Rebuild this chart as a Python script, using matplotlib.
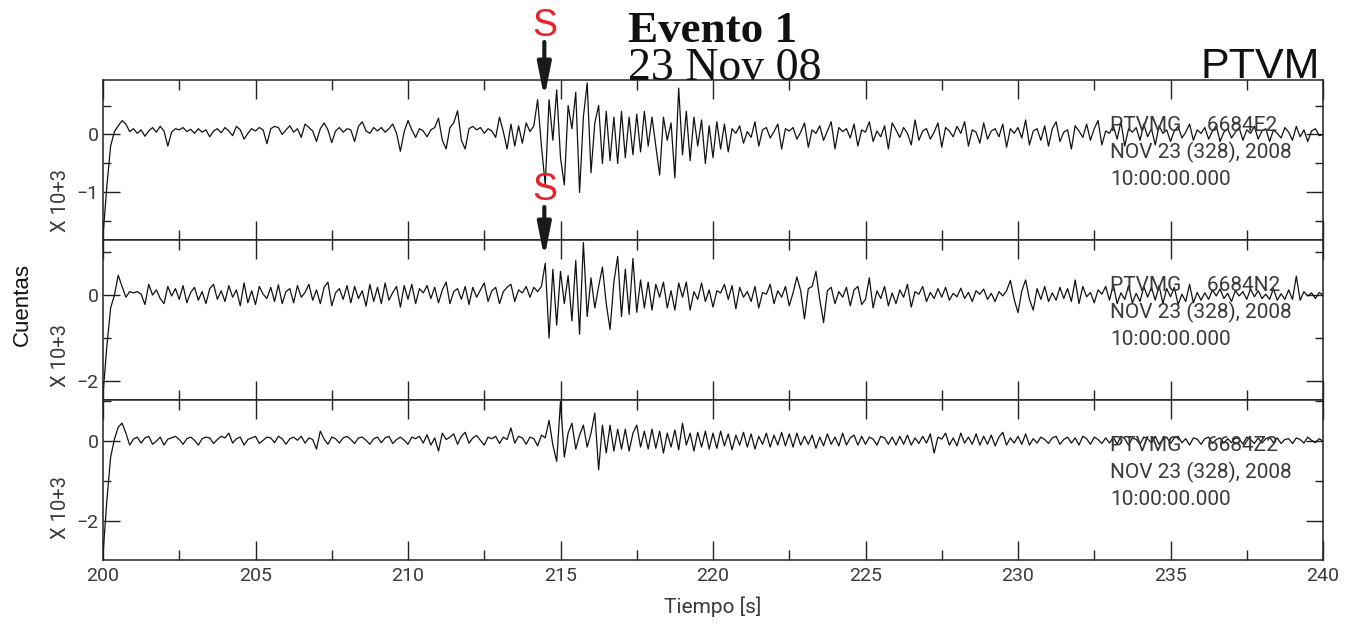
import numpy as np
import matplotlib.pyplot as plt
from matplotlib.ticker import MultipleLocator, FixedLocator

# seismogram traces, sampled every 0.125 s from 200 s, in hundredths of 10^3 counts
T0 = 200.0
DT = 0.125
east = [
    -175, -90, -20, 5, 15, 24, 18, 5,
    10, 2, 8, -3, 6, 12, 4, 14,
    6, -20, 4, 10, 8, 12, 5, 9,
    2, 10, 4, 8, -4, 6, 10, 3,
    12, 6, -2, 14, 8, -8, 2, 10,
    6, 12, 8, -16, 10, 14, 12, 0,
    8, 15, 4, 10, -5, 18, 12, 6,
    -12, 10, 20, 8, -14, 6, 12, 4,
    10, 8, -12, 14, 22, 6, 2, 12,
    6, 12, 4, 10, 18, 2, -29, 5,
    24, 8, -5, 10, 6, -4, 8, 12,
    28, -10, -25, 12, 20, 41, -10, -25,
    10, 14, 8, 12, 2, 10, 6, -5,
    30, 5, -25, 18, -20, 15, -15, 20,
    5, 15, 60, -20, -87, 60, -10, 77,
    -40, -87, 50, 10, 73, -100, 30, 89,
    -66, 20, 50, -50, 40, -45, 30, -50,
    40, -40, 30, -35, 35, -30, 40, -20,
    30, -20, -70, 30, -10, 20, -75, 80,
    -35, 40, -45, 30, -20, 25, -50, 15,
    -40, 22, -25, 18, -30, 10, 2, 15,
    -15, 5, -5, 22, -20, 8, 12, -6,
    5, 18, -25, 10, 6, 12, -8, 4,
    20, -22, 8, 2, 15, -10, 6, 22,
    -25, 12, 5, 10, -6, 18, -20, 8,
    4, 22, -12, 6, -4, 15, -25, 20,
    8, -5, 12, 2, -18, 25, -10, 6,
    10, -8, 4, 20, -22, 12, 6, -4,
    14, 2, 22, -20, 8, 4, -15, 20,
    -8, 6, 10, -4, 18, -22, 10, 2,
    12, -6, 25, -18, 6, 10, -10, 15,
    -20, 10, 22, -12, 4, 8, -25, 15,
    6, -5, 18, -10, 10, 24, -18, 6,
    2, 15, -8, 22, -20, 10, 4, 12,
    -10, 18, -4, 10, -18, 15, 2, 8,
    -12, 6, 14, -6, 4, 18, -10, 8,
    2, 12, -8, 6, 15, -12, 4, 10,
    -6, 4, 12, -10, 8, 2, 14, -8,
    6, 10, -12, 8, 2, -6, 12, 4,
    -10, 14, -4, 8, -12, 6, 10, -2,
    0]
north = [
    -230, -120, -30, 0, 46, 20, -5, 8,
    5, 8, 2, -22, 25, 0, 12, -8,
    -20, 20, -2, 15, -10, 22, -18, 6,
    18, -12, 8, -20, 15, 25, -10, 10,
    -15, 22, -5, 12, -25, 28, -18, 10,
    -22, 20, 2, -8, 18, -15, 24, -20,
    8, 15, -18, 22, -5, 6, 25, -12,
    12, -20, 18, 30, -25, 5, 15, -10,
    22, -18, 20, -8, 10, -26, 25, -15,
    18, -20, 28, -12, 6, 20, -28, 22,
    -10, 25, -20, 15, 5, 22, -8, 18,
    -18, 12, 30, -20, 8, 15, -10, 20,
    -22, 18, -5, 12, 28, -15, 10, 18,
    -20, 8, 18, 25, -15, 12, 5, 20,
    -5, 18, 8, 20, 74, -100, 60, -70,
    55, -20, 45, -60, 80, -91, 122, -50,
    40, -30, 20, 65, -20, -80, 30, 90,
    -50, 60, -45, 85, -40, 35, -30, 30,
    -35, 25, -5, 30, -30, 10, -35, 28,
    -5, 30, -35, 8, -10, 28, -15, 12,
    -28, 10, 5, 25, -10, 22, -32, 18,
    -5, 8, -15, 20, -30, 6, 2, 25,
    -20, 10, -5, 20, -25, 5, 42, 10,
    -55, 15, 20, 55, -10, -64, 10, 18,
    -20, 8, -5, 18, -25, 12, 20, -22,
    -10, 40, -30, 10, -8, 20, -25, 5,
    -20, 12, -5, 25, -28, 8, 2, 20,
    -15, 6, -8, 15, -5, 18, -12, 4,
    -4, 16, -8, 6, -15, 10, 2, 14,
    -10, 4, -15, 8, -2, 10, 34, -10,
    -41, 10, 35, -10, -35, 15, -10, 20,
    -15, 5, -12, 18, -8, 15, -15, 35,
    -20, 20, -4, 6, -18, 12, 2, 20,
    -12, 25, -20, 5, -10, 22, -18, 4,
    -15, 20, -5, 18, -12, 22, -20, 15,
    -4, 18, -22, 2, -15, 25, -18, 6,
    -12, 5, -10, 12, -2, 14, -8, 4,
    -15, 10, -2, 8, -10, 14, -4, 10,
    -8, 2, -10, 15, -12, 3, -10, 12,
    -10, 44, -12, 8, -2, 5, -8, 6,
    0]
vertical = [
    -285, -150, -40, 5, 35, 45, 20, -10,
    5, 10, -5, 8, 12, -8, 0, 10,
    -10, 5, 8, 12, 4, -8, 6, 10,
    2, -10, 6, 10, 8, -6, 4, 12,
    8, 20, -5, 6, 10, -10, 4, 8,
    12, -6, 2, 10, 8, -4, 12, 6,
    -8, 6, 10, 2, 12, -5, 8, 4,
    -20, 25, 5, -8, 10, 6, -5, 8,
    12, 4, -6, 8, 10, 2, -8, 6,
    10, -4, 8, 12, -6, 4, 10, 2,
    -8, 10, 6, 12, -5, 16, -10, 8,
    -25, 20, 4, 10, 18, -8, 12, 22,
    -5, 8, 14, 2, -10, 10, 6, 12,
    -6, 10, 4, 33, -5, 12, 8, -8,
    10, 6, -12, 15, 8, 52, -10, -51,
    100, -40, 20, 45, -20, 15, 40, -15,
    20, 70, -72, 40, -30, 40, -25, 30,
    -20, 30, -25, 20, 40, -15, 25, -20,
    30, -18, 25, -30, 20, -15, 28, -22,
    45, -10, 20, -25, 22, -15, 25, -20,
    20, -18, 25, -12, 18, -22, 15, -10,
    22, -15, 18, -20, 12, -8, 20, -15,
    15, -10, 22, -12, 18, -15, 20, -10,
    12, -8, 15, -18, 10, -12, 18, -8,
    10, -12, 20, -10, 8, 15, -10, 12,
    -8, 10, 5, -10, 12, 8, -8, 10,
    -10, 12, -8, 15, -10, 8, -6, 12,
    -5, 18, -30, 10, 5, 20, -10, 8,
    -12, 20, -5, 10, -8, 18, -10, 12,
    -8, 15, -12, 10, 22, -10, 8, -5,
    12, -8, 18, -10, 6, -5, 10, 4,
    -6, 8, 12, -8, 4, 10, -5, 8,
    -10, 12, 6, -8, 10, 4, -6, 8,
    -5, 10, -8, 12, 6, -10, 8, 4,
    -8, 10, 6, -5, 12, -8, 4, 10,
    -6, 8, 12, -4, 6, -10, 8, 5,
    -8, 6, 10, -6, 4, 8, -5, 6,
    -4, 8, 6, -8, 10, 4, -6, 8,
    -5, 6, 10, -4, 8, -6, 4, 6,
    -6, 8, 4, -5, 10, 2, -4, 6,
    0]

channels = ['6684E2', '6684N2', '6684Z2']
ylims = [(-1.82, 0.94), (-2.44, 1.28), (-2.98, 1.03)]
ymajor = [[0, -1], [0, -2], [0, -2]]
yminor = [0.5, 1, 1]
xlab_y = [0.25, 0.281, 0.331]
s_time = 214.47  # S arrival marked on E and N

narrow = ['Roboto', 'DejaVu Sans']
gray = '#3a3a3a'

fig = plt.figure(figsize=(13.56, 6.29), dpi=100)
left, width = 103/1356, 1220/1356
h = 160/629
bottoms = [1 - 240/629, 1 - 400/629, 1 - 560/629]

traces = [east, north, vertical]
axes = []
for k in range(3):
    ax = fig.add_axes([left, bottoms[k], width, h])
    y = np.array(traces[k]) / 100.0
    t = T0 + DT*np.arange(len(y))
    ax.plot(t, y, color='#111111', lw=0.9)
    ax.set_xlim(200, 240)
    ax.set_ylim(*ylims[k])
    ax.xaxis.set_major_locator(MultipleLocator(5))
    ax.xaxis.set_minor_locator(MultipleLocator(2.5))
    ax.yaxis.set_major_locator(FixedLocator(ymajor[k]))
    ax.yaxis.set_minor_locator(MultipleLocator(yminor[k]))
    ax.tick_params(axis='both', which='both', direction='in', top=True, right=True,
                   color='#222222', width=1.0, labelcolor=gray)
    ax.tick_params(axis='x', which='major', length=14)
    ax.tick_params(axis='x', which='minor', length=7)
    ax.tick_params(axis='y', which='major', length=12, pad=3)
    ax.tick_params(axis='y', which='minor', length=6)
    for lab in ax.get_yticklabels():
        lab.set_family(narrow)
        lab.set_fontsize(14)
    if k < 2:
        ax.set_xticklabels([])
    else:
        ax.tick_params(axis='x', pad=5)
        for lab in ax.get_xticklabels():
            lab.set_family(narrow)
            lab.set_fontsize(14)
    for sp in ax.spines.values():
        sp.set_linewidth(1.1)
        sp.set_color('#222222')
    lines = ['PTVMG     ' + channels[k], 'NOV 23 (328), 2008', '10:00:00.000']
    for line, yy in zip(lines, [0.681, 0.5125, 0.344]):
        ax.text(0.8254, yy, line, transform=ax.transAxes, family=narrow,
                fontsize=15, color=gray, va='baseline', ha='left')
    ax.text(-0.0352, xlab_y[k], 'X 10+3', transform=ax.transAxes, rotation=90,
            family=narrow, fontsize=14.5, color=gray, ha='center', va='center')
    axes.append(ax)

# S arrows
for ax, tip, tail, sy in [(axes[0], 0.8875, 1.2375, 1.3375), (axes[1], 0.8875, 1.206, 1.3125)]:
    ax.annotate('', xy=(s_time, tip), xycoords=('data', 'axes fraction'),
                xytext=(s_time, tail), textcoords=('data', 'axes fraction'),
                arrowprops=dict(arrowstyle='-|>,head_length=1.0,head_width=0.2',
                                color='#1a1a1a', lw=3, mutation_scale=20,
                                shrinkA=0, shrinkB=0),
                annotation_clip=False, zorder=10)
    ax.text(s_time, sy, 'S', transform=ax.get_xaxis_transform(), ha='center',
            va='center', color='#e8222a', fontsize=27, family='Liberation Sans',
            clip_on=False, zorder=10)

fig.text(628/1356, 1 - 42/629, 'Evento 1', family='Liberation Serif',
         fontweight='bold', fontsize=32.5, color='#111111', va='baseline')
fig.text(628/1356, 1 - 80/629, '23 Nov 08', family='Liberation Serif',
         fontsize=33, color='#111111', va='baseline')
fig.text(1320/1356, 1 - 78/629, 'PTVM', family='Liberation Sans',
         fontsize=31, color='#111111', va='baseline', ha='right')
fig.text(22/1356, 1 - 305/629, 'Cuentas', family='Liberation Sans',
         fontsize=16, rotation=90, ha='center', va='center', color='#111111')
fig.text(713/1356, 1 - 607/629, 'Tiempo [s]', family=narrow,
         fontsize=15, ha='center', va='center', color=gray)

fig.savefig('out.png', dpi=100)
